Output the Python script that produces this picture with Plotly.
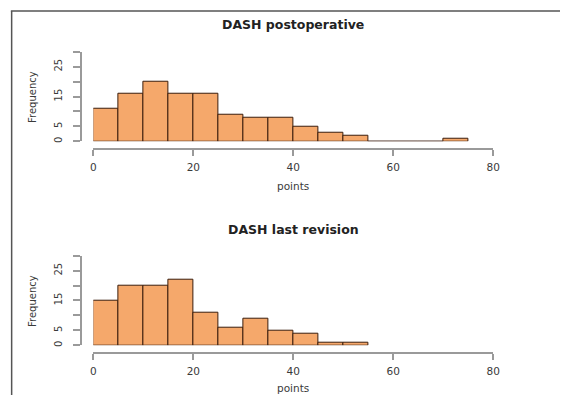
import plotly.graph_objects as go

# ---- data ----
bin_width = 5
post_bin_starts = [0, 5, 10, 15, 20, 25, 30, 35, 40, 45, 50, 55, 60, 65, 70]
post_counts = [11, 16, 20, 16, 16, 9, 8, 8, 5, 3, 2, 0, 0, 0, 1]
last_bin_starts = [0, 5, 10, 15, 20, 25, 30, 35, 40, 45, 50]
last_counts = [15, 20, 20, 22, 11, 6, 9, 5, 4, 1, 1]
titles = ["DASH postoperative", "DASH last revision"]
x_ticks = [0, 20, 40, 60, 80]
y_ticks = [0, 5, 10, 15, 20, 25, 30]
y_ticktext = ["0", "5", "", "15", "", "25", ""]

W, H = 567, 397
FILL = "#F5A86B"
EDGE = "#3b1d0c"
AXC = "#9a9a9a"
TXT = "#3a3a3a"
FONT = "DejaVu Sans, Liberation Sans, Arial, sans-serif"

def px_x(p):
    return p / W

def px_y(p):
    return 1 - p / H

# panel geometry in page pixels
panels = [
    dict(y0=142, y1=52, xline=150, title_y=25, xlab_y=187),
    dict(y0=347, y1=257, xline=355, title_y=231, xlab_y=390),
]
x_left, x_right = 92, 499
yaxis_px = 79

fig = go.Figure()
data = [(post_bin_starts, post_counts), (last_bin_starts, last_counts)]
annotations = []
layout_axes = {}
for i, (starts, counts) in enumerate(data):
    n = "" if i == 0 else str(i + 1)
    fig.add_trace(go.Bar(
        x=starts, y=counts, width=bin_width, offset=0,
        marker=dict(color=FILL, line=dict(color=EDGE, width=1)),
        xaxis="x" + n, yaxis="y" + n, showlegend=False, hoverinfo="x+y",
    ))
    p = panels[i]
    layout_axes["xaxis" + n] = dict(
        domain=[px_x(x_left), px_x(x_right)], range=[0, 80],
        anchor="free", position=px_y(p["xline"]),
        tickvals=x_ticks, ticks="outside", ticklen=6, tickcolor=AXC,
        tickwidth=1.5, ticklabelstandoff=2,
        showline=True, linecolor=AXC, linewidth=2, showgrid=False,
        zeroline=False, tickfont=dict(size=10.5, color=TXT, family=FONT),
        fixedrange=True,
    )
    layout_axes["yaxis" + n] = dict(
        domain=[px_y(p["y0"]), px_y(p["y1"])], range=[0, 30],
        anchor="free", position=px_x(yaxis_px),
        tickvals=y_ticks, ticktext=y_ticktext, tickangle=-90,
        ticks="outside", ticklen=7, tickcolor=AXC, tickwidth=1.5,
        ticklabelstandoff=7,
        showline=True, linecolor=AXC, linewidth=2, showgrid=False,
        zeroline=False, tickfont=dict(size=10, color=TXT, family=FONT),
        fixedrange=True,
    )
    cx = px_x((x_left + x_right) / 2)
    annotations.append(dict(
        text="<b>" + titles[i] + "</b>", xref="paper", yref="paper",
        x=cx, y=px_y(p["title_y"]), showarrow=False,
        xanchor="center", yanchor="middle",
        font=dict(size=12.5, color="#222222", family=FONT)))
    annotations.append(dict(
        text="points", xref="paper", yref="paper",
        x=cx, y=px_y(p["xlab_y"]), showarrow=False,
        xanchor="center", yanchor="middle",
        font=dict(size=10.5, color=TXT, family=FONT)))
    annotations.append(dict(
        text="Frequency", xref="paper", yref="paper", textangle=-90,
        x=px_x(30), y=px_y((p["y0"] + p["y1"]) / 2), showarrow=False,
        xanchor="center", yanchor="middle",
        font=dict(size=10, color=TXT, family=FONT)))

shapes = [
    dict(type="line", xref="paper", yref="paper",
         x0=px_x(8), x1=1, y0=px_y(11), y1=px_y(11),
         line=dict(color="#555555", width=1.5)),
    dict(type="line", xref="paper", yref="paper",
         x0=px_x(8.8), x1=px_x(8.8), y0=px_y(11), y1=0,
         line=dict(color="#555555", width=1.5)),
]

fig.update_layout(
    width=W, height=H,
    margin=dict(l=0, r=0, t=0, b=0),
    paper_bgcolor="white", plot_bgcolor="white",
    bargap=0, annotations=annotations, shapes=shapes,
    showlegend=False,
    **layout_axes,
)

fig.write_html(
    "out.html",
    config={"displayModeBar": False},
    post_script="document.body.style.margin='0';"
                "document.body.style.overflow='hidden';",
)
